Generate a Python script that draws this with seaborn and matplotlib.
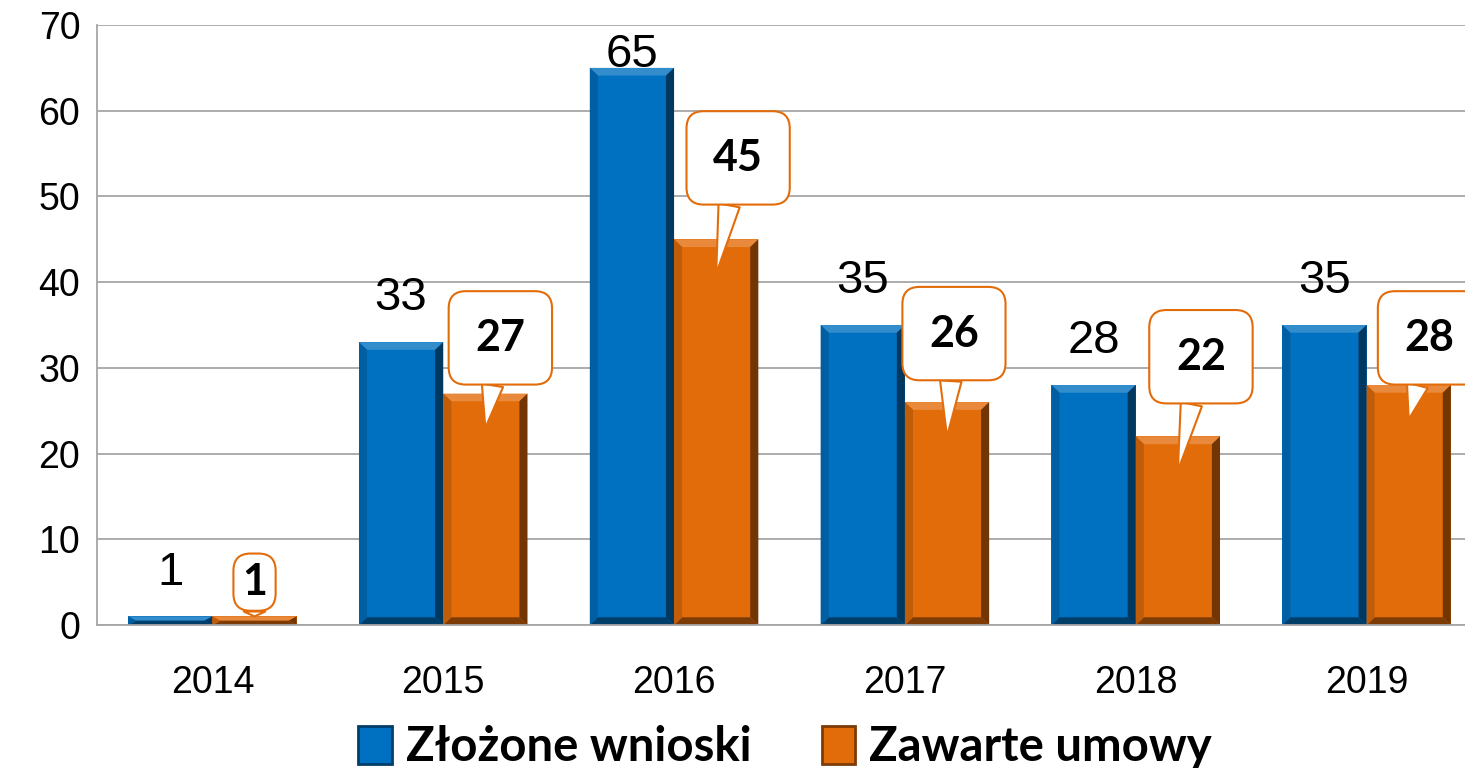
import pandas as pd
import seaborn as sns
import matplotlib.pyplot as plt
from matplotlib.patches import Polygon, Patch
from matplotlib.colors import to_rgb

years = ["2014", "2015", "2016", "2017", "2018", "2019"]
zlozone = [1, 33, 65, 35, 28, 35]
zawarte = [1, 27, 45, 26, 22, 28]
series_names = ["Złożone wnioski", "Zawarte umowy"]

BLUE = "#0070C0"
ORANGE = "#E36C0A"
GRID = "#A6A6A6"


def mix(c, other, t):
    c = to_rgb(c)
    return tuple(a * (1 - t) + b * t for a, b in zip(c, other))


def bevel(ax, patch, bx=0.035, by=0.9):
    # fake the Excel "bevel" look with four trapezoids round the bar
    x, y = patch.get_x(), patch.get_y()
    w, h = patch.get_width(), patch.get_height()
    by = min(by, h / 2)
    c = patch.get_facecolor()
    white, black = (1, 1, 1), (0, 0, 0)
    faces = [
        ([(x, y + h), (x + w, y + h), (x + w - bx, y + h - by), (x + bx, y + h - by)], mix(c, white, 0.2)),
        ([(x + w, y + h), (x + w, y), (x + w - bx, y + by), (x + w - bx, y + h - by)], mix(c, black, 0.5)),
        ([(x, y), (x + w, y), (x + w - bx, y + by), (x + bx, y + by)], mix(c, black, 0.45)),
        ([(x, y), (x, y + h), (x + bx, y + h - by), (x + bx, y + by)], mix(c, black, 0.15)),
    ]
    for pts, col in faces:
        ax.add_patch(Polygon(pts, closed=True, fc=col, ec="none", zorder=2))


df = pd.DataFrame({
    "rok": years * 2,
    "seria": [series_names[0]] * len(years) + [series_names[1]] * len(years),
    "liczba": zlozone + zawarte,
})

sns.set_style("white")
plt.rcParams["font.family"] = ["Liberation Sans", "DejaVu Sans"]
plt.rcParams["text.color"] = "black"
plt.rcParams["xtick.labelcolor"] = "black"
plt.rcParams["ytick.labelcolor"] = "black"

fig = plt.figure(figsize=(14.65, 7.68), dpi=100)
ax = fig.add_axes([0.0662, 0.1862, 0.9454, 0.7812])

sns.barplot(data=df, x="rok", y="liczba", hue="seria", hue_order=series_names,
            palette=[BLUE, ORANGE], width=0.73, gap=0, saturation=1,
            errorbar=None, legend=False, ax=ax)

for p in list(ax.patches):
    p.set_edgecolor("none")
    bevel(ax, p)

ax.set_xlim(-0.5, 5.5)
ax.set_ylim(0, 70)
ax.set_yticks(range(0, 71, 10))
ax.set_xlabel("")
ax.set_ylabel("")
ax.yaxis.grid(True, color=GRID, lw=1.3)
ax.set_axisbelow(True)
for s in ["top", "right"]:
    ax.spines[s].set_visible(False)
for s in ["left", "bottom"]:
    ax.spines[s].set_color(GRID)
    ax.spines[s].set_linewidth(1.3)

ax.tick_params(axis="y", length=9, width=1.3, color=GRID, labelsize=27, pad=3)
ax.tick_params(axis="x", which="major", length=0, labelsize=27, pad=29)
ax.set_xticks([i - 0.5 for i in range(len(years) + 1)], minor=True)
ax.tick_params(axis="x", which="minor", length=9, width=1.3, color=GRID)

blue_bars, orange_bars = ax.containers[0], ax.containers[1]

# plain labels above the blue bars
for p, v in zip(blue_bars, zlozone):
    cx = p.get_x() + p.get_width() / 2
    ax.text(cx, min(v + 3.7, 65.1), str(v), ha="center", va="baseline",
            fontsize=34, color="black", zorder=5)

# speech-bubble labels for the orange bars
lift = [4.0, 6.5, 9.5, 8.0, 9.3, 5.5]
shift = [0.0, 0.065, 0.095, 0.03, 0.1, 0.09]
for i, (p, v) in enumerate(zip(orange_bars, zawarte)):
    cx = p.get_x() + p.get_width() / 2
    tip = v - 4 if v > 5 else v
    pad = 0.2 if v < 5 else 0.62
    ax.annotate(str(v), xy=(cx, tip), xytext=(cx + shift[i], v + lift[i]),
                ha="center", va="center", fontsize=31, fontweight="bold",
                family=["Lato", "DejaVu Sans"], color="black", zorder=6,
                bbox=dict(boxstyle=f"round,pad={pad},rounding_size=0.4",
                          fc="white", ec=ORANGE, lw=1.5),
                arrowprops=dict(arrowstyle="wedge,tail_width=0.5,shrink_factor=0.5",
                                fc="white", ec=ORANGE, lw=1.5, shrinkA=0, shrinkB=0))

handles = [Patch(fc=BLUE, ec=mix(BLUE, (0, 0, 0), 0.45), lw=2),
           Patch(fc=ORANGE, ec=mix(ORANGE, (0, 0, 0), 0.45), lw=2)]
fig.legend(handles, series_names, loc="center", bbox_to_anchor=(0.536, 0.027),
           ncol=2, frameon=False, handlelength=0.7, handleheight=0.85,
           handletextpad=0.3, columnspacing=1.5,
           prop=dict(family=["Lato", "DejaVu Sans"], weight="bold", size=34))

fig.savefig("out.png", dpi=100)
